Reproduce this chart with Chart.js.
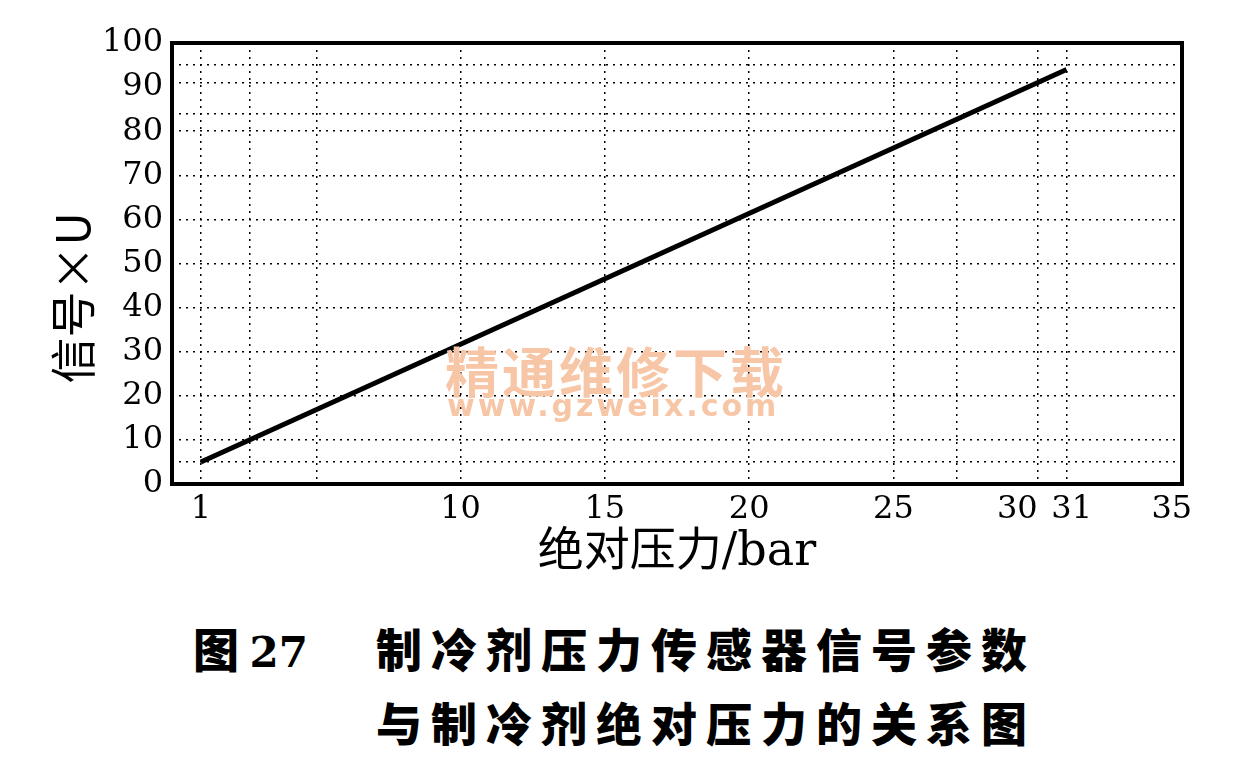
<!DOCTYPE html>
<html lang="zh">
<head>
    <meta charset="UTF-8">
    <title>制冷剂压力传感器信号参数</title>
    <style>
        body { margin: 0; background: #fff; width: 1238px; height: 758px; position: relative; overflow: hidden; }
        #wrap { position: absolute; left: 0; top: 0; width: 1238px; height: 600px; }
        .mark { position: absolute; color: #f7c6a6; font-family: "Noto Sans CJK SC", sans-serif; font-weight: 700; pointer-events: none; }
        .cap { position: absolute; left: 0; font-family: "Noto Sans CJK SC", sans-serif; font-weight: 900; font-size: 46px; color: #000; white-space: nowrap; }
    </style>
</head>
<body>
    <div id="wrap"><canvas id="myChart"></canvas></div>

    <div class="mark" style="left:445px; top:330px; font-size:54px; letter-spacing:3px;">精通维修下载</div>
    <div class="mark" style="left:447px; top:388px; font-size:30px; letter-spacing:3px; font-family:'DejaVu Sans', sans-serif;">www.gzweix.com</div>

    <div class="cap" style="top:614px; left:193px;">图 <span style="font-family:'DejaVu Serif',serif; font-size:42px;">27</span></div>
    <div class="cap" style="top:614px; left:376px; letter-spacing:9px;">制冷剂压力传感器信号参数</div>
    <div class="cap" style="top:688px; left:376px; letter-spacing:9px;">与制冷剂绝对压力的关系图</div>

    <script src="https://cdn.jsdelivr.net/npm/chart.js"></script>
    <script>
        // 数据
        let pressure = [1, 31];        // 绝对压力 / bar
        let signal = [5, 94];          // 信号 x U
        let xLabels = [1, 10, 15, 20, 25, 30, 31, 35];
        let yLabels = [0, 10, 20, 30, 40, 50, 60, 70, 80, 90, 100];
        let xGrid = [1, 2.7, 5, 10, 15, 20, 25, 27.2, 30, 31];
        let yGrid = [5, 10, 20, 30, 40, 50, 60, 70, 80, 84, 91, 95];

        // 30 / 31 标签挤在一起，用空格稍微错开
        let xText = { 30: '30    ', 31: ' 31', 35: '35  ' };

        function mergeTicks(a, b) {
            let all = Array.from(new Set(a.concat(b))).sort((p, q) => p - q);
            return all.map(v => ({ value: v }));
        }

        const tickFont = { family: 'DejaVu Serif', size: 32 };
        const dash = [2, 5];

        const ctx = document.getElementById('myChart');

        const frame = {
            id: 'frame',
            afterDraw(chart) {
                const a = chart.chartArea;
                const c = chart.ctx;
                c.save();
                c.strokeStyle = '#000';
                c.lineWidth = 4;
                c.strokeRect(a.left, a.top, a.right - a.left, a.bottom - a.top);
                c.restore();
            }
        };

        let chart = new Chart(ctx, {
            type: 'line',
            data: {
                datasets: [{
                    data: pressure.map((p, i) => ({ x: p, y: signal[i] })),
                    borderColor: '#000',
                    borderWidth: 5,
                    pointRadius: 0,
                    tension: 0,
                }]
            },
            options: {
                responsive: true,
                maintainAspectRatio: false,
                animation: false,
                layout: { padding: { top: 43, right: 56, left: 0, bottom: 0 } },
                plugins: { legend: { display: false }, tooltip: { enabled: false } },
                scales: {
                    x: {
                        type: 'linear',
                        min: 0,
                        max: 35,
                        afterBuildTicks: s => { s.ticks = mergeTicks(xGrid, xLabels.concat([0])); },
                        afterFit: s => { s.height = 116; },
                        ticks: {
                            autoSkip: false,
                            maxRotation: 0,
                            padding: 6,
                            color: '#000',
                            font: tickFont,
                            callback: v => xLabels.includes(v) ? (xText[v] || String(v)) : '',
                        },
                        grid: {
                            drawTicks: false,
                            lineWidth: 1.5,
                            color: c => (c.tick && xGrid.includes(c.tick.value)) ? '#000' : 'transparent',
                        },
                        border: { display: false, dash: dash },
                        title: {
                            display: true,
                            text: '绝对压力/bar',
                            color: '#000',
                            font: { family: '"DejaVu Serif", "Noto Sans CJK SC"', size: 46, lineHeight: 1 },
                            padding: { top: 0, bottom: 24 },
                        },
                    },
                    y: {
                        min: 0,
                        max: 100,
                        afterBuildTicks: s => { s.ticks = mergeTicks(yGrid, yLabels); },
                        afterFit: s => { s.width = 172; },
                        ticks: {
                            autoSkip: false,
                            padding: 9,
                            color: '#000',
                            font: tickFont,
                            callback: v => yLabels.includes(v) ? String(v) : '',
                        },
                        grid: {
                            drawTicks: false,
                            lineWidth: 1.5,
                            color: c => (c.tick && yGrid.includes(c.tick.value)) ? '#000' : 'transparent',
                        },
                        border: { display: false, dash: dash },
                        title: {
                            display: true,
                            // 标题在原图中略偏下，尾部空格把文字往下推
                            text: '信号×U\u3000\u2002',
                            color: '#000',
                            font: { family: '"Noto Sans CJK SC", "DejaVu Serif"', size: 46, lineHeight: 1 },
                            padding: { top: 50, bottom: 0 },
                        },
                    }
                }
            },
            plugins: [frame]
        });
    </script>
</body>
</html>
